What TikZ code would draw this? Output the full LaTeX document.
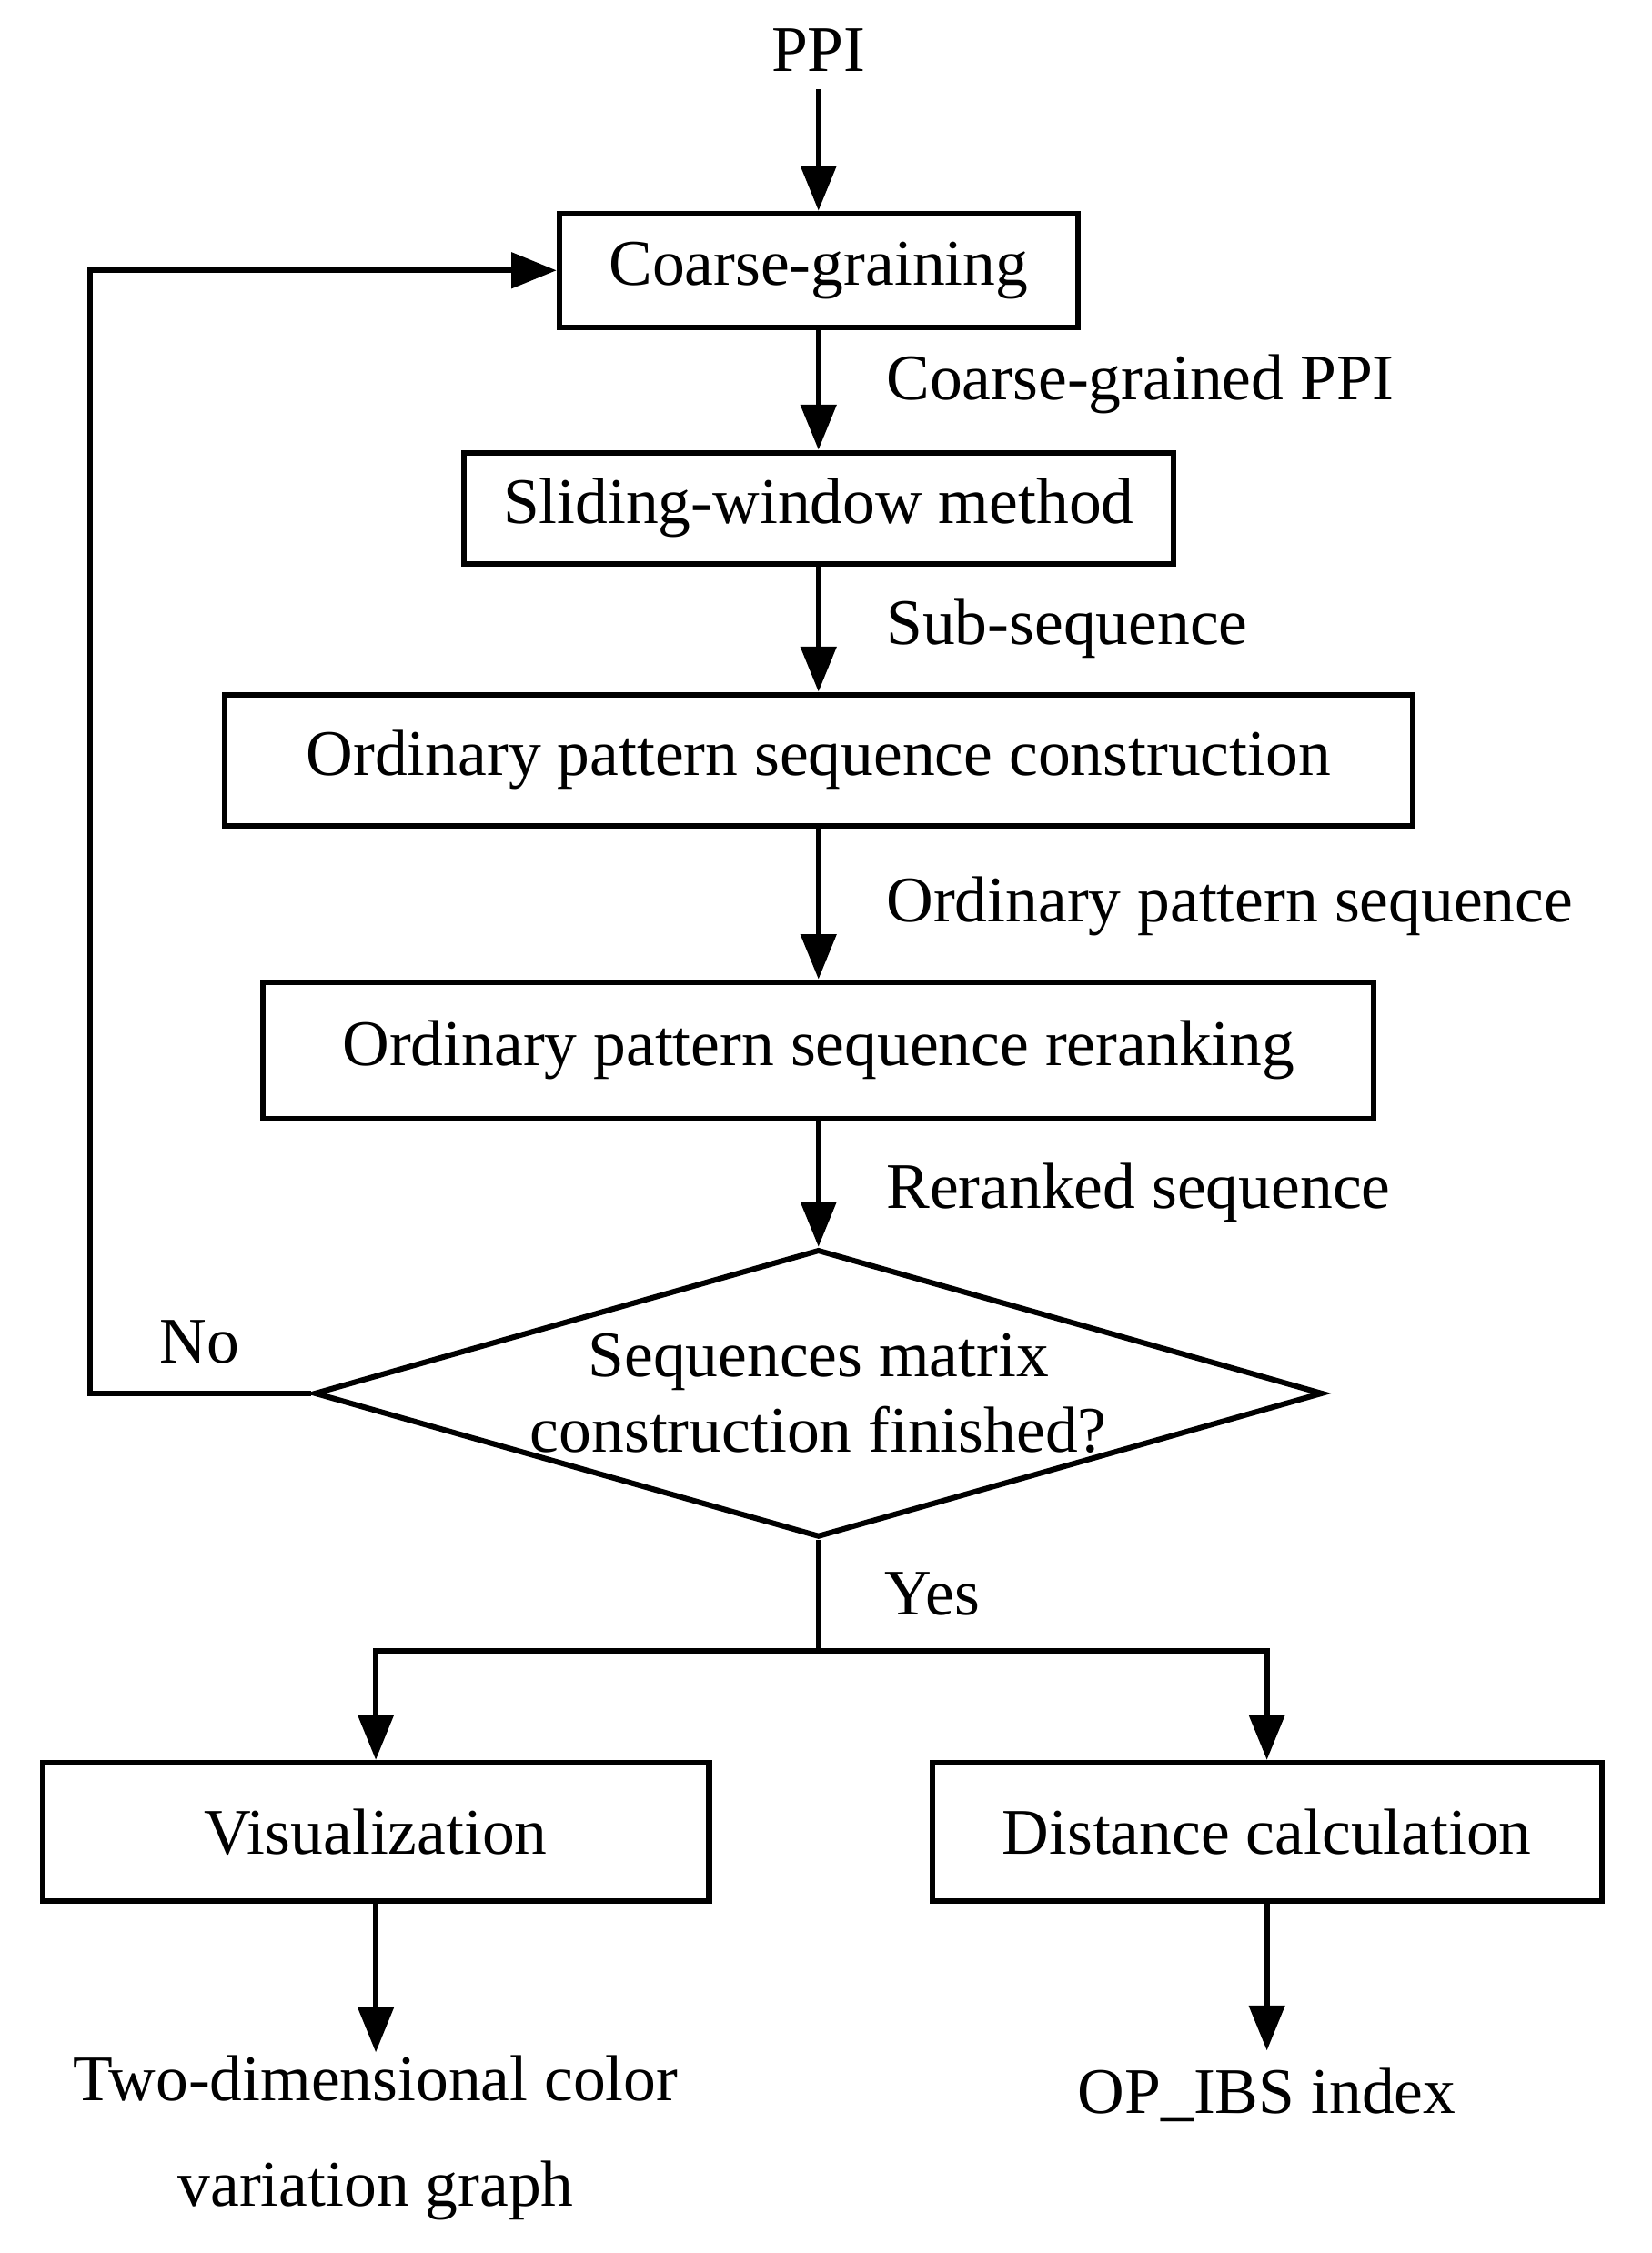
\documentclass[tikz,border=0pt]{standalone}
\usepackage{fontspec}
\setmainfont{Liberation Serif}
\usetikzlibrary{arrows.meta,shapes.geometric}
\begin{document}
\begin{tikzpicture}[x=0.01cm,y=-0.01cm,
  every node/.style={font=\fontsize{13}{15}\selectfont},
  box/.style={draw,line width=1.1pt,inner sep=0pt},
  lbl/.style={anchor=west,inner sep=0pt},
  arr/.style={line width=1.1pt,-{Triangle[length=9pt,width=7pt]}},
  ln/.style={line width=1.1pt}]
\useasboundingbox (0,0) rectangle (1160,1583);
\node (ppi) at (575,35) {PPI};
\node[box,minimum width=364\pgflinewidth,text width=,minimum width=3.64cm,minimum height=0.8cm] (cg) at (575,190) {Coarse-graining};
\node[box,minimum width=4.98cm,minimum height=0.78cm] (sw) at (575,357) {Sliding-window method};
\node[box,minimum width=8.34cm,minimum height=0.92cm] (opc) at (575,534) {Ordinary pattern sequence construction};
\node[box,minimum width=7.8cm,minimum height=0.96cm] (opr) at (575,738) {Ordinary pattern sequence reranking};
\node[diamond,draw,line width=1.1pt,minimum width=7.08cm,minimum height=2.02cm,inner sep=0pt,align=center,aspect=3.5] (dec) at (575,979) {Sequences matrix\\construction finished?};
\node[box,minimum width=4.68cm,minimum height=0.97cm] (vis) at (264,1287) {Visualization};
\node[box,minimum width=4.7cm,minimum height=0.97cm] (dist) at (890,1287) {Distance calculation};
\node[align=center,inner sep=0pt] (tdc) at (264,1502) {Two-dimensional color\\[6pt]variation graph};
\node (op) at (890,1472) {OP\_IBS index};
\node[lbl] at (622,270) {Coarse-grained PPI};
\node[lbl] at (622,442) {Sub-sequence};
\node[lbl] at (622,637) {Ordinary pattern sequence};
\node[lbl] at (622,838) {Reranked sequence};
\node (no) at (140,943) {No};
\node (yes) at (655,1120) {Yes};
\coordinate (c1) at (63,979);
\coordinate (c2) at (63,190);
\coordinate (j) at (575,1160);
\coordinate (jl) at (264,1160);
\coordinate (jr) at (890,1160);
\draw[arr] (ppi) -- (cg);
\draw[arr] (cg) -- (sw);
\draw[arr] (sw) -- (opc);
\draw[arr] (opc) -- (opr);
\draw[arr] (opr) -- (dec.north);
\draw[arr] (dec.west) -- (c1) -- (c2) -- (cg.west);
\draw[ln] (dec.south) -- (j);
\draw[arr] (j) -- (jl) -- (vis.north);
\draw[arr] (j) -- (jr) -- (dist.north);
\draw[arr] (vis.south) -- (264,1442);
\draw[arr] (dist.south) -- (op.north);
\end{tikzpicture}
\end{document}
